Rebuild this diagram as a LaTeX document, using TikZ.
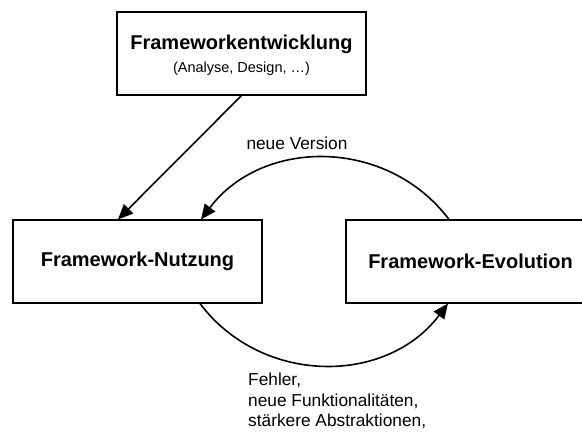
\documentclass[tikz,border=0pt]{standalone}
\usepackage{fontspec}
\setmainfont{Liberation Sans}
\usetikzlibrary{arrows.meta}

\begin{document}
\begin{tikzpicture}[x=1pt, y=1pt,
	box/.style={draw, line width=1.1pt, minimum width=249pt, minimum height=83pt, inner sep=0pt},
	boxtext/.style={font=\bfseries\fontsize{20}{24}\selectfont},
	note/.style={font=\fontsize{17.3}{20.5}\selectfont},
	flow/.style={line width=1.6pt, -{Triangle[length=15pt, width=13pt]}}]
	\useasboundingbox (0,0) rectangle (582,-443);
	% Nodes
	\node[box] (entw) at (241.5,-53.5) {};
	\node[boxtext] (entwname) at ([yshift=9pt]entw.center) {Frameworkentwicklung};
	\node[font=\fontsize{14.5}{17}\selectfont] (entwsub) at ([yshift=-15pt]entw.center) {(Analyse, Design, …)};
	\node[box, boxtext] (nutz) at (137.5,-261.5) {Framework-Nutzung};
	\node[box, boxtext] (evo) at (470.5,-261.5) {Framework-Evolution};
	% Edges
	\draw[flow] (entw.south) -- ([xshift=-19.5pt]nutz.north);
	\draw[flow] ([xshift=-21.5pt]evo.north) to[out=127, in=53, looseness=1.06] coordinate[midway] (up) ([xshift=63.5pt]nutz.north);
	\draw[flow] ([xshift=62.5pt]nutz.south) to[out=-53, in=-127, looseness=1.06] coordinate[midway] (down) ([xshift=-22.5pt]evo.south);
	% Labels
	\node[note, anchor=south] (version) at ([xshift=-28pt, yshift=5pt]up) {neue Version};
	\node[note, anchor=north west, align=left, inner sep=0pt] (gruende) at ([xshift=-76pt, yshift=-8pt]down)
		{Fehler,\\neue Funktionalitäten,\\stärkere Abstraktionen,};
\end{tikzpicture}
\end{document}
